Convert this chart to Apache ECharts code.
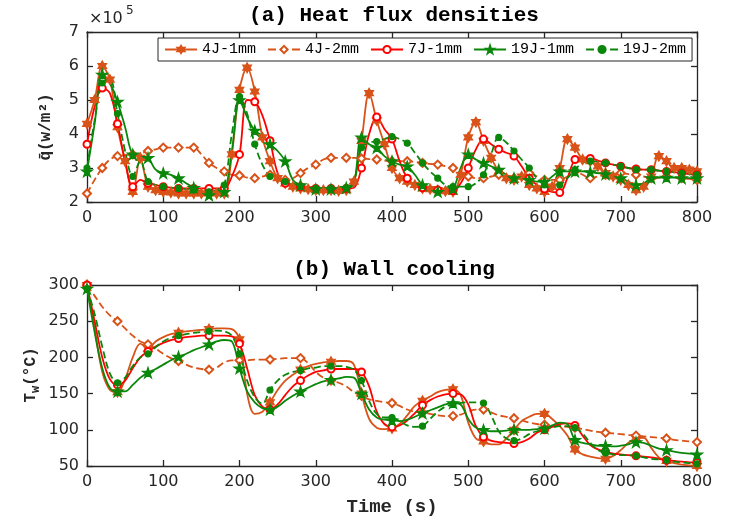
<!DOCTYPE html>
<html>
<head>
<meta charset="utf-8">
<script src="https://cdn.jsdelivr.net/npm/echarts@6/dist/echarts.min.js"></script>
<style>
  html, body { margin: 0; padding: 0; background: #fff; }
  #chart { width: 729px; height: 521px; }
</style>
</head>
<body>
<div id="chart"></div>
<script>
// Sampling grid of the measurements, seconds
const TIME = Array.from({ length: 81 }, (_, i) => i * 10);

const NAMES = ['4J-1mm', '4J-2mm', '7J-1mm', '19J-1mm', '19J-2mm'];
const X_TICKS = [0, 100, 200, 300, 400, 500, 600, 700, 800];

// (a) mean heat flux density, in units of 1e5 W/m^2
const Q_4J1 = [
  4.3, 5.0, 6.0, 5.6, 4.2, 3.2, 2.3, 3.3, 2.45, 2.35,
  2.3, 2.28, 2.25, 2.25, 2.25, 2.25, 2.28, 2.25, 2.25, 3.4,
  5.3, 5.95, 5.25, 3.9, 3.2, 2.7, 2.55, 2.45, 2.4, 2.38,
  2.35, 2.35, 2.35, 2.33, 2.35, 2.6, 3.8, 5.2, 4.4, 3.7,
  3.0, 2.7, 2.6, 2.5, 2.4, 2.38, 2.35, 2.32, 2.3, 2.8,
  3.9, 4.35, 3.8, 3.3, 2.9, 2.7, 2.65, 2.75, 2.5, 2.4,
  2.3, 2.45, 3.0, 3.85, 3.6, 3.25, 3.2, 3.05, 2.85, 2.75,
  2.65, 2.5, 2.35, 2.45, 2.75, 3.35, 3.2, 3.0, 3.0, 2.95,
  2.9
];
const Q_4J2 = [
  2.25, 2.65, 3.0, 3.25, 3.35, 3.38, 3.4, 3.42, 3.5, 3.55,
  3.6, 3.6, 3.6, 3.6, 3.6, 3.4, 3.15, 3.0, 2.9, 2.8,
  2.78, 2.72, 2.7, 2.75, 2.8, 2.7, 2.65, 2.7, 2.85, 3.0,
  3.1, 3.25, 3.3, 3.3, 3.3, 3.3, 3.28, 3.26, 3.25, 3.22,
  3.2, 3.2, 3.2, 3.18, 3.15, 3.12, 3.1, 3.05, 3.0, 2.85,
  2.75, 2.7, 2.7, 2.75, 2.8, 2.75, 2.7, 2.75, 2.85, 2.75,
  2.65, 2.65, 2.65, 2.75, 2.9, 2.8, 2.7, 2.75, 2.8, 2.82,
  2.85, 2.82, 2.8, 2.75, 2.7, 2.72, 2.75, 2.72, 2.7, 2.68,
  2.65
];
const Q_7J1 = [
  3.7, 4.8, 5.35, 5.2, 4.3, 3.2, 2.45, 2.65, 2.55, 2.5,
  2.45, 2.42, 2.4, 2.4, 2.4, 2.4, 2.4, 2.4, 2.4, 2.75,
  3.4, 5.0, 4.95, 4.55, 3.8, 2.85, 2.55, 2.5, 2.45, 2.42,
  2.4, 2.4, 2.4, 2.4, 2.4, 2.42, 3.0, 4.0, 4.5, 4.15,
  3.85, 3.2, 2.7, 2.5, 2.42, 2.38, 2.35, 2.33, 2.33, 2.55,
  3.0, 3.55, 3.85, 3.7, 3.55, 3.45, 3.35, 3.05, 2.7, 2.5,
  2.38, 2.3, 2.28, 2.7, 3.25, 3.3, 3.28, 3.22, 3.15, 3.1,
  3.05, 3.0, 2.97, 2.95, 2.95, 2.92, 2.9, 2.88, 2.85, 2.82,
  2.8
];
const Q_19J1 = [
  2.9, 4.3, 5.75, 5.5, 4.95, 4.2, 3.4, 3.35, 3.3, 2.95,
  2.85, 2.8, 2.7, 2.55, 2.42, 2.3, 2.2, 2.25, 2.3, 3.5,
  5.0, 4.5, 4.1, 3.95, 3.7, 3.5, 3.2, 2.65, 2.5, 2.42,
  2.38, 2.38, 2.38, 2.38, 2.42, 2.55, 3.9, 3.7, 3.6, 3.35,
  3.2, 3.1, 3.05, 2.8, 2.5, 2.35, 2.3, 2.35, 2.4, 3.0,
  3.4, 3.25, 3.15, 3.05, 2.95, 2.8, 2.7, 2.68, 2.65, 2.6,
  2.6, 2.75, 2.9, 2.9, 2.9, 2.9, 2.88, 2.85, 2.82, 2.75,
  2.7, 2.6, 2.5, 2.55, 2.7, 2.72, 2.72, 2.72, 2.7, 2.7,
  2.7
];
const Q_19J2 = [
  3.0, 4.4, 5.5, 5.6, 4.6, 3.5, 2.75, 3.2, 2.6, 2.5,
  2.45, 2.42, 2.4, 2.38, 2.35, 2.32, 2.3, 2.35, 2.5, 4.0,
  5.1, 4.6, 3.7, 3.1, 2.75, 2.65, 2.6, 2.5, 2.45, 2.42,
  2.4, 2.4, 2.4, 2.4, 2.42, 2.6, 3.6, 3.75, 3.78, 3.85,
  3.92, 3.85, 3.73, 3.45, 3.15, 2.9, 2.7, 2.5, 2.45, 2.45,
  2.45, 2.55, 2.8, 3.4, 3.9, 3.75, 3.5, 3.25, 3.0, 2.7,
  2.5, 2.45, 2.5, 2.7, 2.95, 3.15, 3.2, 3.18, 3.15, 3.1,
  3.05, 3.0, 2.95, 2.95, 2.95, 2.92, 2.9, 2.88, 2.85, 2.82,
  2.8
];

// (b) wall temperature, degrees C
const T_4J1 = [
  300, 240, 180, 155, 152, 170, 200, 219, 212, 222,
  228, 232, 234, 236, 237, 238, 239, 240, 240, 239,
  225, 150, 122, 125, 138, 155, 168, 176, 183, 188,
  191, 193, 194, 195, 195, 190, 150, 115, 103, 101,
  102, 108, 120, 133, 140, 146, 152, 155, 156, 148,
  110, 88, 84, 80, 80, 88, 100, 112, 118, 122,
  122, 115, 105, 92, 73, 66, 63, 61, 60, 64,
  72, 82, 88, 89, 75, 62, 57, 54, 52, 51,
  50
];
const T_4J2 = [
  300, 285, 270, 258, 250, 240, 230, 222, 218, 212,
  205, 199, 195, 190, 186, 184, 183, 186, 193, 196,
  196, 196, 197, 197, 197, 198, 199, 199, 199, 192,
  180, 172, 168, 165, 160, 152, 147, 142, 140, 138,
  137, 133, 128, 125, 124, 122, 120, 119, 119, 121,
  125, 128, 128, 124, 120, 118, 116, 113, 110, 108,
  107, 106, 105, 104, 103, 101, 99, 97, 96, 95,
  94, 93, 92, 91, 90, 89, 88, 86, 85, 84,
  83
];
const T_7J1 = [
  300, 250, 200, 170, 162, 168, 185, 200, 208, 215,
  220, 224, 226, 228, 229, 230, 230, 230, 230, 229,
  219, 185, 148, 132, 128, 135, 148, 160, 168, 175,
  180, 182, 184, 184, 184, 184, 180, 160, 125, 108,
  104, 106, 113, 123, 134, 141, 146, 149, 150, 149,
  135, 105, 90, 85, 83, 82, 81, 83, 88, 96,
  100, 104, 108, 109, 106, 92, 79, 73, 70, 67,
  66, 65, 64, 63, 62, 60, 58, 57, 56, 55,
  55
];
const T_19J1 = [
  295, 235, 185, 158, 153, 153, 162, 172, 179, 184,
  190, 196, 201, 205, 210, 214, 218, 222, 224, 222,
  185, 153, 138, 130, 128, 132, 140, 147, 153, 158,
  163, 167, 169, 171, 173, 172, 150, 128, 117, 114,
  113, 112, 114, 118, 123, 127, 131, 135, 137, 135,
  115, 103, 100, 98, 98, 99, 100, 100, 100, 101,
  102, 106, 110, 108, 86, 82, 80, 78, 78, 77,
  78, 80, 83, 82, 78, 74, 72, 70, 68, 67,
  66
];
const T_19J2 = [
  295, 260, 215, 178, 165, 172, 188, 200, 205, 214,
  222, 227, 230, 232, 234, 235, 236, 237, 236, 230,
  205, 168, 145, 136, 155, 168, 176, 180, 182, 185,
  186, 188, 188, 188, 187, 183, 168, 140, 122, 117,
  117, 112, 106, 104, 105, 115, 125, 132, 135, 137,
  138, 138, 137, 120, 98, 88, 85, 88, 94, 98,
  100, 103, 105, 105, 103, 95, 82, 72, 68, 66,
  65, 65, 64, 62, 60, 59, 58, 56, 55, 54,
  53
];

const ORANGE = '#D95319';
const RED = '#FF0000';
const GREEN = '#0A870A';
const INK = '#262626';

// Six- and five-pointed star markers
const HEXAGRAM = 'path://M0,-50L14.4,-25L43.3,-25L28.9,0L43.3,25L14.4,25L0,50L-14.4,25L-43.3,25L-28.9,0L-43.3,-25L-14.4,-25Z';
const PENTAGRAM = 'path://M0,-50L11.2,-15.5L47.6,-15.5L18.2,5.9L29.4,40.5L0,19.1L-29.4,40.5L-18.2,5.9L-47.6,-15.5L-11.2,-15.5Z';

const STYLE = {
  '4J-1mm':  { color: ORANGE, dash: 'solid',  symbol: HEXAGRAM,       size: 10, qStep: 10 },
  '4J-2mm':  { color: ORANGE, dash: 'dashed', symbol: 'emptyDiamond', size: 8,  qStep: 20 },
  '7J-1mm':  { color: RED,    dash: 'solid',  symbol: 'emptyCircle',  size: 7,  qStep: 20 },
  '19J-1mm': { color: GREEN,  dash: 'solid',  symbol: PENTAGRAM,      size: 11, qStep: 20 },
  '19J-2mm': { color: GREEN,  dash: 'dashed', symbol: 'circle',       size: 6,  qStep: 20 }
};
const Q_DATA = { '4J-1mm': Q_4J1, '4J-2mm': Q_4J2, '7J-1mm': Q_7J1, '19J-1mm': Q_19J1, '19J-2mm': Q_19J2 };
const T_DATA = { '4J-1mm': T_4J1, '4J-2mm': T_4J2, '7J-1mm': T_7J1, '19J-1mm': T_19J1, '19J-2mm': T_19J2 };
const T_STEP = 40;

// Curve points; markers only at every `step` seconds
function points(vals, step) {
  return TIME.map((t, i) => t % step === 0
    ? { value: [t, vals[i]] }
    : { value: [t, vals[i]], symbol: 'none' });
}

function makeSeries(name, vals, step, axisIdx) {
  const s = STYLE[name];
  return {
    name: name,
    type: 'line',
    xAxisIndex: axisIdx,
    yAxisIndex: axisIdx,
    data: points(vals, step),
    smooth: 0.35,
    symbol: s.symbol,
    symbolSize: s.size,
    symbolKeepAspect: true,
    showSymbol: true,
    showAllSymbol: true,
    lineStyle: { color: s.color, width: 1.8, type: s.dash },
    itemStyle: { color: s.color, borderColor: s.color, borderWidth: 1.2 },
    emphasis: { disabled: true },
    z: 2
  };
}

const series = [];
NAMES.forEach(n => series.push(makeSeries(n, Q_DATA[n], STYLE[n].qStep, 0)));
NAMES.forEach(n => series.push(makeSeries(n, T_DATA[n], T_STEP, 2)));

const tickFont = { fontFamily: 'DejaVu Sans', fontSize: 16, color: INK };
const frameLine = { show: true, onZero: false, lineStyle: { color: INK, width: 1.3 } };
const innerTick = { show: true, inside: true, length: 6, lineStyle: { color: INK, width: 1.3 } };

function xAxisPair(grid) {
  const base = { gridIndex: grid, type: 'value', min: 0, max: 800, interval: 100,
    axisLine: frameLine, axisTick: innerTick, splitLine: { show: false } };
  return [
    Object.assign({}, base, { position: 'bottom',
      axisLabel: Object.assign({ margin: 8 }, tickFont) }),
    Object.assign({}, base, { position: 'top', axisLabel: { show: false } })
  ];
}
function yAxisPair(grid, min, max, interval) {
  const base = { gridIndex: grid, type: 'value', min: min, max: max, interval: interval,
    axisLine: frameLine, axisTick: innerTick, splitLine: { show: false } };
  return [
    Object.assign({}, base, { position: 'left',
      axisLabel: Object.assign({ margin: 8 }, tickFont) }),
    Object.assign({}, base, { position: 'right', axisLabel: { show: false } })
  ];
}

const monoBold = { fontFamily: 'Liberation Mono', fontWeight: 'bold' };

const option = {
  animation: false,
  backgroundColor: '#fff',
  grid: [
    { left: 87, right: 32, top: 32, height: 170 },
    { left: 87, right: 32, top: 285, height: 181 }
  ],
  xAxis: xAxisPair(0).concat(xAxisPair(1)),
  yAxis: yAxisPair(0, 2, 7, 1).concat(yAxisPair(1, 50, 300, 50)),
  legend: {
    data: NAMES,
    left: 158,
    top: 38,
    orient: 'horizontal',
    backgroundColor: '#fff',
    borderColor: INK,
    borderWidth: 1,
    borderRadius: 0,
    padding: [4, 6],
    itemGap: 11,
    itemWidth: 32,
    itemHeight: 9,
    textStyle: { fontFamily: 'Liberation Mono', fontSize: 15, color: '#000' },
    selectedMode: false
  },
  graphic: [
    { type: 'text', x: 394, y: 16,
      style: Object.assign({ text: '(a) Heat flux densities', fontSize: 21, fill: '#000',
        align: 'center', verticalAlign: 'middle' }, monoBold) },
    { type: 'text', x: 394, y: 270,
      style: Object.assign({ text: '(b) Wall cooling', fontSize: 21, fill: '#000',
        align: 'center', verticalAlign: 'middle' }, monoBold) },
    { type: 'text', x: 392, y: 507,
      style: Object.assign({ text: 'Time (s)', fontSize: 19, fill: INK,
        align: 'center', verticalAlign: 'middle' }, monoBold) },
    { type: 'text', x: 89, y: 19,
      style: { text: '\u00d710', fontFamily: 'DejaVu Sans', fontSize: 16, fill: INK,
        align: 'left', verticalAlign: 'middle' } },
    { type: 'text', x: 126, y: 11,
      style: { text: '5', fontFamily: 'DejaVu Sans', fontSize: 12, fill: INK,
        align: 'left', verticalAlign: 'middle' } },
    { type: 'text', x: 46, y: 127, rotation: Math.PI / 2,
      style: Object.assign({ text: 'q\u0304(w/m\u00b2)', fontSize: 16, fill: INK,
        align: 'center', verticalAlign: 'middle' }, monoBold) },
    { type: 'text', x: 31, y: 375, rotation: Math.PI / 2,
      style: Object.assign({ text: '{n|T}{s|w}{n|(\u00b0C)}', fill: INK,
        align: 'center', verticalAlign: 'middle',
        rich: {
          n: { fontFamily: 'Liberation Mono', fontWeight: 'bold', fontSize: 16, fill: INK, lineHeight: 22, verticalAlign: 'middle' },
          s: { fontFamily: 'Liberation Mono', fontWeight: 'bold', fontSize: 12, fill: INK, lineHeight: 22, verticalAlign: 'bottom' }
        } }, monoBold) }
  ],
  series: series
};

const chart = echarts.init(document.getElementById('chart'), null, { renderer: 'canvas' });
chart.setOption(option);
</script>
</body>
</html>
